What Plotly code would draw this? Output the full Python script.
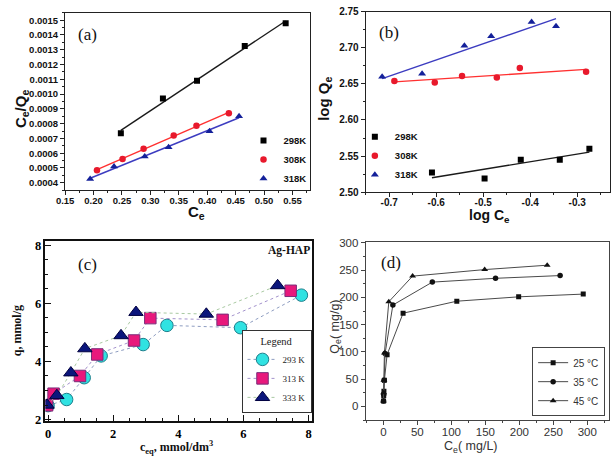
import numpy as np
import plotly.graph_objects as go

W, H = 614, 466
def px(x): return x / W
def py(y): return 1 - y / H

SANS = "Arial, 'Liberation Sans', sans-serif"
SERIF = "'Times New Roman', 'Liberation Serif', serif"

# ---------------- data (a) ----------------
a_x_298 = [0.248, 0.322, 0.382, 0.466, 0.538]
a_y_298 = [0.000735, 0.00097, 0.00109, 0.001325, 0.00148]
a_x_308 = [0.206, 0.251, 0.288, 0.341, 0.381, 0.438]
a_y_308 = [0.000485, 0.00056, 0.00063, 0.00072, 0.000785, 0.00087]
a_x_318 = [0.194, 0.236, 0.290, 0.332, 0.404, 0.456]
a_y_318 = [0.000425, 0.00051, 0.000578, 0.00064, 0.000748, 0.00085]

# ---------------- data (b) ----------------
b_x_298 = [-0.609, -0.497, -0.420, -0.337, -0.274]
b_y_298 = [2.527, 2.519, 2.545, 2.545, 2.560]
b_x_308 = [-0.689, -0.603, -0.545, -0.471, -0.422, -0.281]
b_y_308 = [2.654, 2.652, 2.661, 2.659, 2.672, 2.667]
b_x_318 = [-0.715, -0.630, -0.540, -0.483, -0.397, -0.345]
b_y_318 = [2.660, 2.664, 2.703, 2.716, 2.736, 2.730]
b_xticks = [-0.7, -0.6, -0.5, -0.4, -0.3]
b_xticktext = ["-0.7", "-0.6", "-0.5", "-0.4", "-0.3"]

# ---------------- data (c) ----------------
c_x_293 = [0.0, 0.57, 1.11, 1.63, 2.92, 3.65, 5.91, 7.78]
c_y_293 = [2.48, 2.69, 3.44, 4.19, 4.58, 5.24, 5.16, 6.28]
c_x_313 = [-0.03, 0.17, 0.98, 1.51, 2.64, 3.14, 5.36, 7.45]
c_y_313 = [2.49, 2.89, 3.50, 4.24, 4.72, 5.49, 5.43, 6.43]
c_x_333 = [-0.03, 0.27, 0.70, 1.13, 2.24, 2.70, 4.86, 7.05]
c_y_333 = [2.50, 2.83, 3.61, 4.44, 4.89, 5.69, 5.63, 6.61]

# ---------------- data (d) ----------------
d_x_25 = [0.3, 0.5, 0.8, 1.5, 5.5, 29, 108, 199, 294]
d_y_25 = [10, 20, 28, 48, 95, 171, 193, 201, 206]
d_x_35 = [0.2, 0.5, 1.0, 2.5, 14, 72, 165, 260]
d_y_35 = [10, 22, 48, 97, 186, 228, 235, 240]
d_x_45 = [0.1, 0.3, 0.8, 1.5, 8, 43, 149, 241]
d_y_45 = [10, 25, 48, 98, 192, 239, 251, 259]


def fit_line(xs, ys):
    k, b = np.polyfit(xs, ys, 1)
    xx = np.array([min(xs), max(xs)])
    return xx, k * xx + b


fig = go.Figure()

# ---- panel (a) and (b): scatter + fitted lines ----
ab_styles = [
    ("298K", "square", "#000000", "#1a1a1a", 6),
    ("308K", "circle", "#e8192c", "#ff3030", 6.5),
    ("318K", "triangle-up", "#14219a", "#3c3cc0", 7),
]
a_sets = [(a_x_298, a_y_298), (a_x_308, a_y_308), (a_x_318, a_y_318)]
b_sets = [(b_x_298, b_y_298), (b_x_308, b_y_308), (b_x_318, b_y_318)]

for (name, sym, mcol, lcol, ms), (xs, ys) in zip(ab_styles, a_sets):
    lx, ly = fit_line(xs, ys)
    fig.add_trace(go.Scatter(x=lx, y=ly, mode="lines", line=dict(color=lcol, width=1.4),
                             showlegend=False, xaxis="x", yaxis="y", hoverinfo="skip"))
for (name, sym, mcol, lcol, ms), (xs, ys) in zip(ab_styles, a_sets):
    fig.add_trace(go.Scatter(x=xs, y=ys, mode="markers", name=name,
                             marker=dict(symbol=sym, color=mcol, size=ms, line=dict(width=0)),
                             xaxis="x", yaxis="y", legend="legend"))

for (name, sym, mcol, lcol, ms), (xs, ys) in zip(ab_styles, b_sets):
    lx, ly = fit_line(xs, ys)
    fig.add_trace(go.Scatter(x=lx, y=ly, mode="lines", line=dict(color=lcol, width=1.4),
                             showlegend=False, xaxis="x2", yaxis="y2", hoverinfo="skip"))
for (name, sym, mcol, lcol, ms), (xs, ys) in zip(ab_styles, b_sets):
    fig.add_trace(go.Scatter(x=xs, y=ys, mode="markers", name=name,
                             marker=dict(symbol=sym, color=mcol, size=ms, line=dict(width=0)),
                             xaxis="x2", yaxis="y2", legend="legend2"))

# ---- panel (c) ----
c_styles = [
    ("293 K", "circle", "#30e2e2", "#1c7f8c", "#8d9cc0", 12.5, (c_x_293, c_y_293)),
    ("313 K", "square", "#e8187c", "#7a2d7a", "#a392cc", 11.5, (c_x_313, c_y_313)),
    ("333 K", "triangle-up", "#0b167c", "#000040", "#a9c9a2", 12.5, (c_x_333, c_y_333)),
]
for name, sym, fill, edge, lcol, ms, (xs, ys) in c_styles:
    fig.add_trace(go.Scatter(x=xs, y=ys, mode="lines+markers", name=name,
                             line=dict(color=lcol, width=1, dash="dot"),
                             marker=dict(symbol=sym, color=fill, size=ms, line=dict(color=edge, width=1)),
                             xaxis="x3", yaxis="y3", legend="legend3"))

# ---- panel (d) ----
d_styles = [
    ("25 °C", "square", 5, (d_x_25, d_y_25)),
    ("35 °C", "circle", 5.5, (d_x_35, d_y_35)),
    ("45 °C", "triangle-up", 6, (d_x_45, d_y_45)),
]
for name, sym, ms, (xs, ys) in d_styles:
    fig.add_trace(go.Scatter(x=xs, y=ys, mode="lines+markers", name=name,
                             line=dict(color="#4a4a4a", width=1),
                             marker=dict(symbol=sym, color="#111111", size=ms),
                             xaxis="x4", yaxis="y4", legend="legend4"))


def ax(domain, anchor, rng, font, ticks="outside", ticklen=4, mlen=2, lw=1.2, lcol="#222",
       **kw):
    d = dict(domain=domain, anchor=anchor, range=rng, showgrid=False, zeroline=False,
             showline=True, mirror=True, linecolor=lcol, linewidth=lw,
             ticks=ticks, ticklen=ticklen, tickwidth=1, tickcolor=lcol, tickfont=font)
    d.update(kw)
    d.setdefault("minor", {})
    d["minor"].update(dict(ticks=ticks, ticklen=mlen, tickcolor=lcol, tickwidth=1, showgrid=False))
    return d


fa = dict(family=SANS, size=9.5, color="#111", weight="bold")
fb = dict(family=SANS, size=10, color="#111", weight="bold")
fc = dict(family=SERIF, size=12.5, color="#000", weight="bold")
fd = dict(family=SANS, size=11.5, color="#333")

layout = dict(
    width=W, height=H, autosize=False,
    margin=dict(l=0, r=0, t=0, b=0),
    paper_bgcolor="white", plot_bgcolor="white",
    xaxis=ax([px(57), px(305)], "y", [0.15, 0.58], fa, tick0=0.15, dtick=0.05, tickformat=".2f",
             ticklabelstandoff=-3, minor=dict(dtick=0.025, tick0=0.15)),
    yaxis=ax([py(189), py(7)], "x", [0.00035, 0.00155], fa, tick0=0.0004, dtick=0.0001,
             tickformat=".4f", minor=dict(dtick=0.00005, tick0=0.0004)),
    xaxis2=ax([px(362), px(610)], "y2", [-0.75, -0.23], fb, tickvals=b_xticks, ticktext=b_xticktext,
              ticklabelstandoff=-3, minor=dict(dtick=0.05, tick0=-0.75)),
    yaxis2=ax([py(191), py(6)], "x2", [2.50, 2.75], fb, tick0=2.5, dtick=0.05, tickformat=".2f",
              minor=dict(dtick=0.025, tick0=2.5)),
    xaxis3=ax([px(37), px(308)], "y3", [-0.08, 8.12], fc, ticks="inside", ticklen=6, mlen=3,
              lw=1.5, lcol="#111", tick0=0, dtick=2, minor=dict(dtick=0.5, tick0=0)),
    yaxis3=ax([py(426), py(241)], "x3", [1.95, 8.15], fc, ticks="inside", ticklen=6, mlen=3,
              lw=1.5, lcol="#111", tick0=2, dtick=2, minor=dict(dtick=0.5, tick0=2)),
    xaxis4=ax([px(362), px(609)], "y4", [-26, 332], fd, lw=1, lcol="#444", tick0=0, dtick=50,
              ticklabelstandoff=-3, minor=dict(dtick=25, tick0=0)),
    yaxis4=ax([py(425), py(242)], "x4", [-25, 302], fd, lw=1, lcol="#444", tick0=0, dtick=50,
              minor=dict(dtick=25, tick0=0)),
    legend=dict(x=px(307), y=py(192), xanchor="right", yanchor="bottom", bgcolor="rgba(0,0,0,0)",
                font=dict(family=SANS, size=9.5, color="#111", weight="bold"), itemwidth=30,
                tracegroupgap=0),
    legend2=dict(x=px(351), y=py(188), xanchor="left", yanchor="bottom", bgcolor="rgba(0,0,0,0)",
                 font=dict(family=SANS, size=9.5, color="#111", weight="bold"), itemwidth=30,
                 tracegroupgap=0),
    legend3=dict(x=px(307), y=py(418), xanchor="right", yanchor="bottom", bgcolor="white",
                 bordercolor="#333", borderwidth=1,
                 font=dict(family=SERIF, size=9, color="#222"), itemwidth=30, tracegroupgap=0,
                 title=dict(text="Legend", side="top center", font=dict(family=SERIF, size=10.5, color="#222"))),
    legend4=dict(x=px(605), y=py(421), xanchor="right", yanchor="bottom", bgcolor="white",
                 bordercolor="#444", borderwidth=1,
                 font=dict(family=SANS, size=10, color="#333"), itemwidth=30, tracegroupgap=0),
)
fig.update_layout(**layout)


def note(text, x, y, font, angle=0, xanchor="center"):
    fig.add_annotation(text=text, x=px(x), y=py(y), xref="paper", yref="paper", showarrow=False,
                       font=font, textangle=angle, xanchor=xanchor, yanchor="middle")


lab = dict(family=SERIF, size=17, color="#111")
note("(a)", 80, 29, lab)
note("(b)", 386, 27, lab)
note("(c)", 80, 265, lab)
note("(d)", 388, 263, lab)
note("Ag-HAP", 307, 251, dict(family=SERIF, size=11.5, color="#111", weight="bold"), xanchor="right")

tab = dict(family=SANS, size=15, color="#111", weight="bold")
tab2 = dict(family=SANS, size=14, color="#111", weight="bold")
note("C<sub>e</sub>/Q<sub>e</sub>", 12, 105, tab, angle=-90)
note("C<sub>e</sub>", 190, 212, tab)
note("log Q<sub>e</sub>", 320, 95, tab, angle=-90)
note("log C<sub>e</sub>", 488, 216, tab2)

tc = dict(family=SERIF, size=12, color="#111", weight="bold")
note("q, mmol/g", 9, 333, tc, angle=-90)
note("c<sub>eq</sub>, mmol/dm<sup>3</sup>", 170, 453, tc)

td = dict(family=SANS, size=12.5, color="#333")
note("Q<sub>e</sub>( mg/g)", 331, 329, td, angle=-90)
note("C<sub>e</sub>( mg/L)", 469, 453, td)

fig.write_html("out.html", config={"displayModeBar": False},
               post_script="document.body.style.margin='0';document.body.style.padding='0';")
